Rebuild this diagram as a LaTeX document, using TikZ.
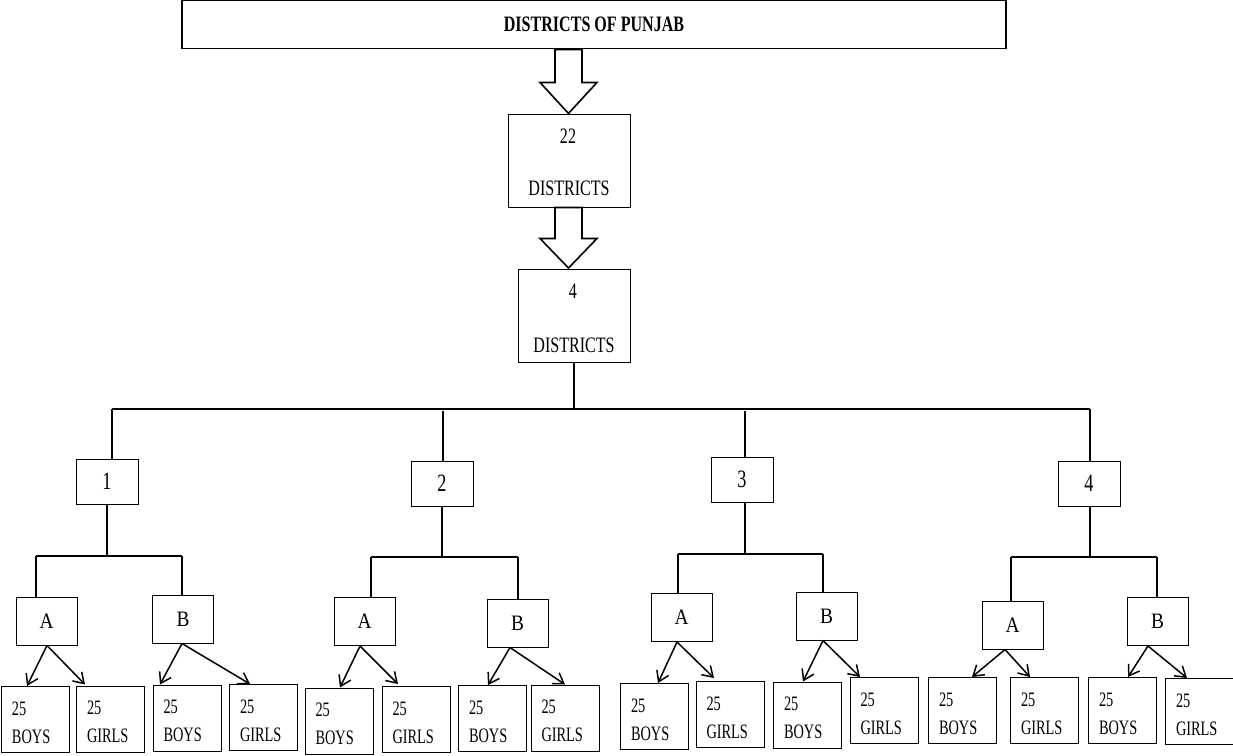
\documentclass[tikz,border=0pt]{standalone}
\usepackage{fontspec}
\setmainfont{Liberation Serif}
\newfontfamily\condfont[FakeStretch=0.73]{Liberation Serif}
\newfontfamily\leaffont[FakeStretch=0.70]{Liberation Serif}
\newfontfamily\letterfont[FakeStretch=0.88]{Liberation Serif}
\usetikzlibrary{arrows.meta,calc}

\begin{document}
\begin{tikzpicture}[x=1pt,y=-1pt,
  box/.style={draw=black,line width=1pt,inner sep=0pt},
  titlebox/.style={box,line width=1.4pt,minimum width=824,minimum height=48,
    font=\condfont\bfseries\fontsize{22}{24}\selectfont},
  distbox/.style={box,minimum width=122,minimum height=93},
  dtext/.style={inner sep=0pt,font=\condfont\fontsize{22}{24}\selectfont},
  numbox/.style={box,minimum width=62,minimum height=45,
    font=\condfont\fontsize{25}{28}\selectfont},
  abbox/.style={box,minimum width=61,minimum height=48,
    font=\letterfont\fontsize{22}{24}\selectfont},
  leaf/.style={box,minimum width=68,minimum height=66,text width=47,
    inner xsep=10.5pt,align=left,font=\leaffont\fontsize{20.5}{28}\selectfont,
    execute at begin node={\rule{0pt}{20pt}}},
  link/.style={draw=black,line width=1.1pt},
  blockarrow/.style={draw=black,line width=1.6pt,line join=miter,fill=white},
  split/.style={draw=black,line width=1.5pt,-{Straight Barb[length=10pt,width=13pt,line width=1.5pt]}}
]
\useasboundingbox (0,0) rectangle (1233,755);

% --- top of the tree ---
\node[titlebox] (title) at (594,24.75) {DISTRICTS OF PUNJAB};
\node[distbox] (d22) at (569,160.5) {};
\node[dtext] (d22num) at ($(d22.north)+(-1,23)$) {22};
\node[dtext] (d22txt) at ($(d22.north)+(0,75)$) {DISTRICTS};
\node[distbox,minimum width=112] (d4) at (574,315.5) {};
\node[dtext] (d4num) at ($(d4.north)+(-1,23)$) {4};
\node[dtext] (d4txt) at ($(d4.north)+(0,77)$) {DISTRICTS};

% hollow block arrows
\coordinate (arrA) at (title.south -| 568.5,0);
\coordinate (arrB) at (d22.south -| 568.5,0);
\draw[blockarrow] (arrA) ++(-13.5,0) -- ++(0,33) -- ++(-15,0) -- ++(28.5,31)
  -- ++(28.5,-31) -- ++(-15,0) -- ++(0,-33) -- cycle;
\draw[blockarrow] (arrB) ++(-13.5,0) -- ++(0,31) -- ++(-15,0) -- ++(28.5,29.5)
  -- ++(28.5,-29.5) -- ++(-15,0) -- ++(0,-31) -- cycle;

% --- the four districts ---
\node[numbox] (n1) at (107,481.5) {1};
\node[numbox] (n2) at (442,483.5) {2};
\node[numbox] (n3) at (742,479.5) {3};
\node[numbox] (n4) at (1089,483.5) {4};

\coordinate (mbL) at (112,409);
\coordinate (mbR) at (1090,409);
\coordinate (m2) at (443,411);
\coordinate (m3) at (745,411);
\draw[link] (d4.south) -- (d4.south |- mbL);
\draw[link] (mbL) -- (mbR);
\draw[link] (mbL) -- (mbL |- n1.north);
\draw[link] (m2) -- (m2 |- n2.north);
\draw[link] (m3) -- (m3 |- n3.north);
\draw[link] (mbR) -- (mbR |- n4.north);

% --- groups A and B ---
\node[abbox] (A1) at (46.5,621) {A};
\node[abbox] (B1) at (183,619) {B};
\node[abbox] (A2) at (364.5,621.5) {A};
\node[abbox] (B2) at (517.5,623) {B};
\node[abbox] (A3) at (681.5,617.5) {A};
\node[abbox] (B3) at (826.5,616) {B};
\node[abbox] (A4) at (1012.5,625) {A};
\node[abbox] (B4) at (1157.5,621.5) {B};

\coordinate (b1L) at (36,556);   \coordinate (b1R) at (182,556);
\coordinate (b2L) at (371,557);  \coordinate (b2R) at (518,557);
\coordinate (b3L) at (678,554);  \coordinate (b3R) at (823,554);
\coordinate (b4L) at (1011,557); \coordinate (b4R) at (1157,557);

\draw[link] (n1.south) -- (n1.south |- b1L);
\draw[link] (n2.south) -- (n2.south |- b2L);
\draw[link] (m3 |- n3.south) -- (m3 |- b3L);
\draw[link] (mbR |- n4.south) -- (mbR |- b4L);
\draw[link] (b1L) -- (b1R);
\draw[link] (b2L) -- (b2R);
\draw[link] (b3L) -- (b3R);
\draw[link] (b4L) -- (b4R);
\draw[link] (b1L) -- (b1L |- A1.north);
\draw[link] (b1R) -- (b1R |- B1.north);
\draw[link] (b2L) -- (b2L |- A2.north);
\draw[link] (b2R) -- (b2R |- B2.north);
\draw[link] (b3L) -- (b3L |- A3.north);
\draw[link] (b3R) -- (b3R |- B3.north);
\draw[link] (b4L) -- (b4L |- A4.north);
\draw[link] (b4R) -- (b4R |- B4.north);

% --- boys and girls ---
\node[leaf] (L1)  at (35.5,719.5) {25\\BOYS};
\node[leaf] (L2)  at (110.5,719)  {25\\GIRLS};
\node[leaf] (L3)  at (187,718)    {25\\BOYS};
\node[leaf] (L4)  at (263.5,717.5){25\\GIRLS};
\node[leaf] (L5)  at (339,721)    {25\\BOYS};
\node[leaf] (L6)  at (416,719.5)  {25\\GIRLS};
\node[leaf] (L7)  at (492.5,718.5){25\\BOYS};
\node[leaf] (L8)  at (565,718)    {25\\GIRLS};
\node[leaf] (L9)  at (654.5,716.5){25\\BOYS};
\node[leaf] (L10) at (730,714.5)  {25\\GIRLS};
\node[leaf] (L11) at (807.5,715)  {25\\BOYS};
\node[leaf] (L12) at (884,710.5)  {25\\GIRLS};
\node[leaf] (L13) at (962.5,710.5){25\\BOYS};
\node[leaf] (L14) at (1044.5,710.5){25\\GIRLS};
\node[leaf] (L15) at (1122.5,710.5){25\\BOYS};
\node[leaf] (L16) at (1199.5,711.5){25\\GIRLS};

\draw[split] ($(A1.south)+(0.5,0)$) -- ($(L1.north)+(-8.5,0)$);
\draw[split] ($(A1.south)+(0.5,0)$) -- ($(L2.north)+(-25.5,-1)$);
\draw[split] ($(B1.south)+(-1,0)$) -- ($(L3.north)+(-27,0)$);
\draw[split] ($(B1.south)+(-1,0)$) -- ($(L4.north)+(-13.5,0)$);
\draw[split] ($(A2.south)+(-4.5,0)$) -- ($(L5.north)+(1,0)$);
\draw[split] ($(A2.south)+(-4.5,0)$) -- ($(L6.north)+(-18,-2)$);
\draw[split] ($(B2.south)+(-7.5,0)$) -- ($(L7.north)+(-4.5,0)$);
\draw[split] ($(B2.south)+(-7.5,0)$) -- ($(L8.north)+(0,0)$);
\draw[split] ($(A3.south)+(-4.5,0)$) -- ($(L9.north)+(3.5,0)$);
\draw[split] ($(A3.south)+(-4.5,0)$) -- ($(L10.north)+(-16,-3)$);
\draw[split] ($(B3.south)+(-3.5,0)$) -- ($(L11.north)+(-4.5,0)$);
\draw[split] ($(B3.south)+(-3.5,0)$) -- ($(L12.north)+(-24,0)$);
\draw[split] ($(A4.south)+(-7.5,0)$) -- ($(L13.north)+(9.5,0)$);
\draw[split] ($(A4.south)+(-7.5,0)$) -- ($(L14.north)+(-14.5,0)$);
\draw[split] ($(B4.south)+(-9.5,0)$) -- ($(L15.north)+(5.5,0)$);
\draw[split] ($(B4.south)+(-9.5,0)$) -- ($(L16.north)+(-12.5,0)$);
\end{tikzpicture}
\end{document}
